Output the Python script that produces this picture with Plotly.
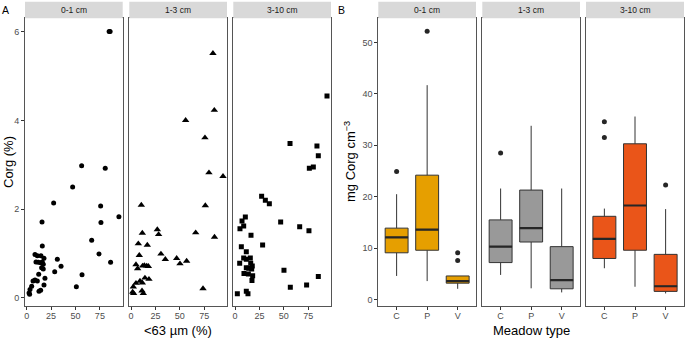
import plotly.graph_objects as go

# ---------------- Data ----------------
# Panel A: Corg (%) vs <63 µm (%) for three depths
x_0_1 = [84.5, 85.5, 56.3, 80.5, 47.1, 27.6, 75.8, 94.5, 15.7, 76.1, 66.6, 16.0, 74.1, 86.0, 31.4, 35.2, 28.7,
         56.7, 50.9, 8.5, 10.9, 14.6, 17.7, 9.5, 11.9, 14.3, 16.0, 17.0, 15.3, 17.0, 12.3, 18.7, 8.5, 6.5,
         10.9, 17.7, 5.1, 3.4, 2.4, 12.6, 14.3, 3.0]
y_0_1 = [6.0, 6.0, 2.98, 2.92, 2.50, 2.14, 2.07, 1.83, 1.71, 1.70, 1.30, 1.17, 0.99, 0.80, 0.87, 0.71, 0.59,
         0.52, 0.25, 0.98, 0.95, 0.95, 0.89, 0.81, 0.80, 0.79, 0.81, 0.76, 0.68, 0.65, 0.53, 0.44, 0.40, 0.38,
         0.38, 0.29, 0.26, 0.19, 0.11, 0.15, 0.17, 0.08]

x_1_3 = [84.0, 85.4, 56.0, 75.8, 79.9, 94.3, 10.6, 76.2, 66.3, 85.6, 27.0, 28.3, 11.6, 7.5, 16.7, 8.5, 30.7,
         35.2, 46.8, 50.2, 57.0, 5.1, 6.8, 11.9, 13.7, 16.1, 17.8, 14.3, 9.2, 11.6, 18.4, 5.1, 2.4, 1.7, 2.7,
         11.3, 12.6, 73.8]
y_1_3 = [5.51, 4.23, 4.00, 3.61, 2.82, 2.74, 2.09, 2.08, 1.47, 1.37, 1.54, 1.43, 1.46, 1.22, 1.19, 0.96, 0.99,
         0.87, 0.89, 0.77, 0.83, 0.75, 0.66, 0.72, 0.73, 0.72, 0.71, 0.45, 0.38, 0.34, 0.42, 0.33, 0.25, 0.13, 0.10,
         0.16, 0.10, 0.21]

x_3_10 = [94.3, 56.4, 84.0, 85.4, 76.2, 80.3, 27.3, 31.1, 35.2, 10.6, 7.2, 8.9, 5.1, 46.8, 66.3, 75.8, 16.4,
          28.3, 6.5, 11.6, 8.9, 11.6, 15.7, 4.8, 16.1, 17.7, 11.6, 14.1, 17.1, 50.2, 9.2, 13.7, 18.1, 17.4,
          85.4, 56.7, 73.4, 2.4, 11.6, 13.3]
y_3_10 = [4.55, 3.48, 3.42, 3.20, 2.92, 2.95, 2.29, 2.20, 2.12, 1.82, 1.73, 1.62, 1.56, 1.71, 1.60, 1.51, 1.41,
          1.19, 1.15, 1.04, 0.90, 0.87, 0.90, 0.78, 0.78, 0.72, 0.68, 0.67, 0.65, 0.62, 0.55, 0.54, 0.50, 0.39,
          0.48, 0.24, 0.29, 0.09, 0.15, 0.09]

# Panel B: box-plot statistics of mg Corg cm-3 by meadow type
meadow = ["C", "P", "V"]
depths = ["0-1 cm", "1-3 cm", "3-10 cm"]
box_colors = ["#E69F00", "#999999", "#EA5519"]

q1_0_1 = [9.1, 9.6, 3.2]
med_0_1 = [12.1, 13.6, 3.6]
q3_0_1 = [13.9, 24.2, 4.6]
lo_0_1 = [4.6, 3.6, 2.1]
hi_0_1 = [20.5, 41.7, 4.6]
out_0_1 = [[24.9], [52.2], [9.1, 7.6]]

q1_1_3 = [7.2, 11.2, 2.1]
med_1_3 = [10.3, 13.9, 3.8]
q3_1_3 = [15.5, 21.3, 10.3]
lo_1_3 = [4.8, 2.2, 1.4]
hi_1_3 = [21.6, 33.8, 21.6]
out_1_3 = [[28.5], [], []]

q1_3_10 = [8.0, 9.6, 1.6]
med_3_10 = [11.8, 18.3, 2.6]
q3_3_10 = [16.2, 30.3, 8.8]
lo_3_10 = [6.1, 2.5, 1.2]
hi_3_10 = [17.7, 35.6, 17.6]
out_3_10 = [[34.6, 31.5], [], [22.3]]

a_xticks = [0, 25, 50, 75]
a_yticks = [0, 2, 4, 6]
b_yticks = [0, 10, 20, 30, 40, 50]

# ---------------- Layout helpers ----------------
W, H = 685, 338
FONT = "Liberation Sans, Arial, sans-serif"
TICKCOL = "#4D4D4D"
BORDER = "#555555"
TICK = "#333333"

def fx(px):
    return px / W

def fy(py):
    return 1 - py / H

panel_top, panel_bot = 18.3, 306.3
strip_top = 1.7
a_panels = [(25, 122.7), (129.3, 227), (233.3, 331)]
b_panels = [(378.3, 476), (482.3, 580), (586, 684)]

fig = go.Figure()
layout = dict(
    width=W, height=H, margin=dict(l=0, r=0, t=0, b=0, autoexpand=False),
    paper_bgcolor="white", plot_bgcolor="white", showlegend=False,
    font=dict(family=FONT, color="black"),
)
shapes = []
annotations = []

a_data = [(x_0_1, y_0_1, "circle", 5), (x_1_3, y_1_3, "triangle-up", 6.5), (x_3_10, y_3_10, "square", 5)]
b_data = [
    (q1_0_1, med_0_1, q3_0_1, lo_0_1, hi_0_1, out_0_1),
    (q1_1_3, med_1_3, q3_1_3, lo_1_3, hi_1_3, out_1_3),
    (q1_3_10, med_3_10, q3_3_10, lo_3_10, hi_3_10, out_3_10),
]

def add_strip(x0, x1, label):
    shapes.append(dict(type="rect", xref="paper", yref="paper", x0=fx(x0), x1=fx(x1),
                       y0=fy(panel_top), y1=fy(strip_top), fillcolor="#D9D9D9", line=dict(width=0)))
    annotations.append(dict(text=label, xref="paper", yref="paper", x=fx((x0 + x1) / 2),
                            y=fy((panel_top + strip_top) / 2), showarrow=False,
                            font=dict(size=8.5, color="#1A1A1A"), xanchor="center", yanchor="middle"))

common = dict(showgrid=False, zeroline=False, showline=True, mirror=True, linecolor=BORDER,
              linewidth=1, automargin=False, ticklen=3, tickcolor=TICK, tickwidth=1,
              tickfont=dict(size=9, color=TICKCOL))

axis_idx = 0
# Panel A
for i, ((x0, x1), (xs, ys, sym, sz)) in enumerate(zip(a_panels, a_data)):
    axis_idx += 1
    xa = "x" if axis_idx == 1 else f"x{axis_idx}"
    ya = "y" if axis_idx == 1 else f"y{axis_idx}"
    fig.add_trace(go.Scatter(x=xs, y=ys, mode="markers", xaxis=xa, yaxis=ya,
                             marker=dict(symbol=sym, size=sz, color="black", line=dict(width=0))))
    kx = "xaxis" if axis_idx == 1 else f"xaxis{axis_idx}"
    ky = "yaxis" if axis_idx == 1 else f"yaxis{axis_idx}"
    layout[kx] = dict(domain=[fx(x0), fx(x1)], range=[-1.74, 98.4], anchor=ya,
                      tickvals=a_xticks, ticks="outside", ticklabelstandoff=-2, **common)
    layout[ky] = dict(domain=[fy(panel_bot), fy(panel_top)], range=[-0.19, 6.30], anchor=xa,
                      tickvals=a_yticks, showticklabels=(i == 0), ticks="outside" if i == 0 else "",
                      **common)
    add_strip(x0, x1, depths[i])

# Panel B
for i, ((x0, x1), (q1, med, q3, lo, hi, outs)) in enumerate(zip(b_panels, b_data)):
    axis_idx += 1
    xa = f"x{axis_idx}"
    ya = f"y{axis_idx}"
    pos = list(range(len(meadow)))
    fig.add_trace(go.Box(x=pos, q1=q1, median=med, q3=q3, lowerfence=lo, upperfence=hi,
                         xaxis=xa, yaxis=ya, width=0.75, whiskerwidth=0, boxpoints=False,
                         fillcolor=box_colors[i], line=dict(color="#333333", width=1)))
    # thicker median bars
    for j, m in enumerate(med):
        fig.add_trace(go.Scatter(x=[pos[j] - 0.375, pos[j] + 0.375], y=[m, m], mode="lines",
                                 xaxis=xa, yaxis=ya, line=dict(color="#262626", width=2.2),
                                 hoverinfo="skip"))
    ox, oy = [], []
    for j, o in enumerate(outs):
        ox += [pos[j]] * len(o)
        oy += o
    fig.add_trace(go.Scatter(x=ox, y=oy, mode="markers", xaxis=xa, yaxis=ya,
                             marker=dict(size=5, color="#262626")))
    layout[f"xaxis{axis_idx}"] = dict(domain=[fx(x0), fx(x1)], range=[-0.6, 2.6], anchor=ya,
                                      tickvals=pos, ticktext=meadow, ticks="outside",
                                      ticklabelstandoff=-2, **common)
    layout[f"yaxis{axis_idx}"] = dict(domain=[fy(panel_bot), fy(panel_top)], range=[-1.3, 54.7], anchor=xa,
                                      tickvals=b_yticks, showticklabels=(i == 0),
                                      ticks="outside" if i == 0 else "", **common)
    add_strip(x0, x1, depths[i])

# Titles and panel letters
annotations += [
    dict(text="A", xref="paper", yref="paper", x=fx(5), y=fy(10), showarrow=False,
         font=dict(size=10.5, color="black"), xanchor="center", yanchor="middle"),
    dict(text="B", xref="paper", yref="paper", x=fx(341), y=fy(10), showarrow=False,
         font=dict(size=10.5, color="black"), xanchor="center", yanchor="middle"),
    dict(text="Corg (%)", xref="paper", yref="paper", x=fx(8), y=fy(162), showarrow=False,
         textangle=-90, font=dict(size=13), xanchor="center", yanchor="middle"),
    dict(text="<63 µm (%)", xref="paper", yref="paper", x=fx(178), y=fy(330), showarrow=False,
         font=dict(size=13), xanchor="center", yanchor="middle"),
    dict(text="mg Corg cm<sup>−3</sup>", xref="paper", yref="paper", x=fx(350), y=fy(162),
         showarrow=False, textangle=-90, font=dict(size=13), xanchor="center", yanchor="middle"),
    dict(text="Meadow type", xref="paper", yref="paper", x=fx(531), y=fy(330), showarrow=False,
         font=dict(size=13), xanchor="center", yanchor="middle"),
]
layout["shapes"] = shapes
layout["annotations"] = annotations
fig.update_layout(**layout)
fig.write_html("out.html", config={"displayModeBar": False},
               post_script="document.body.style.margin='0px';document.body.style.overflow='hidden';")
